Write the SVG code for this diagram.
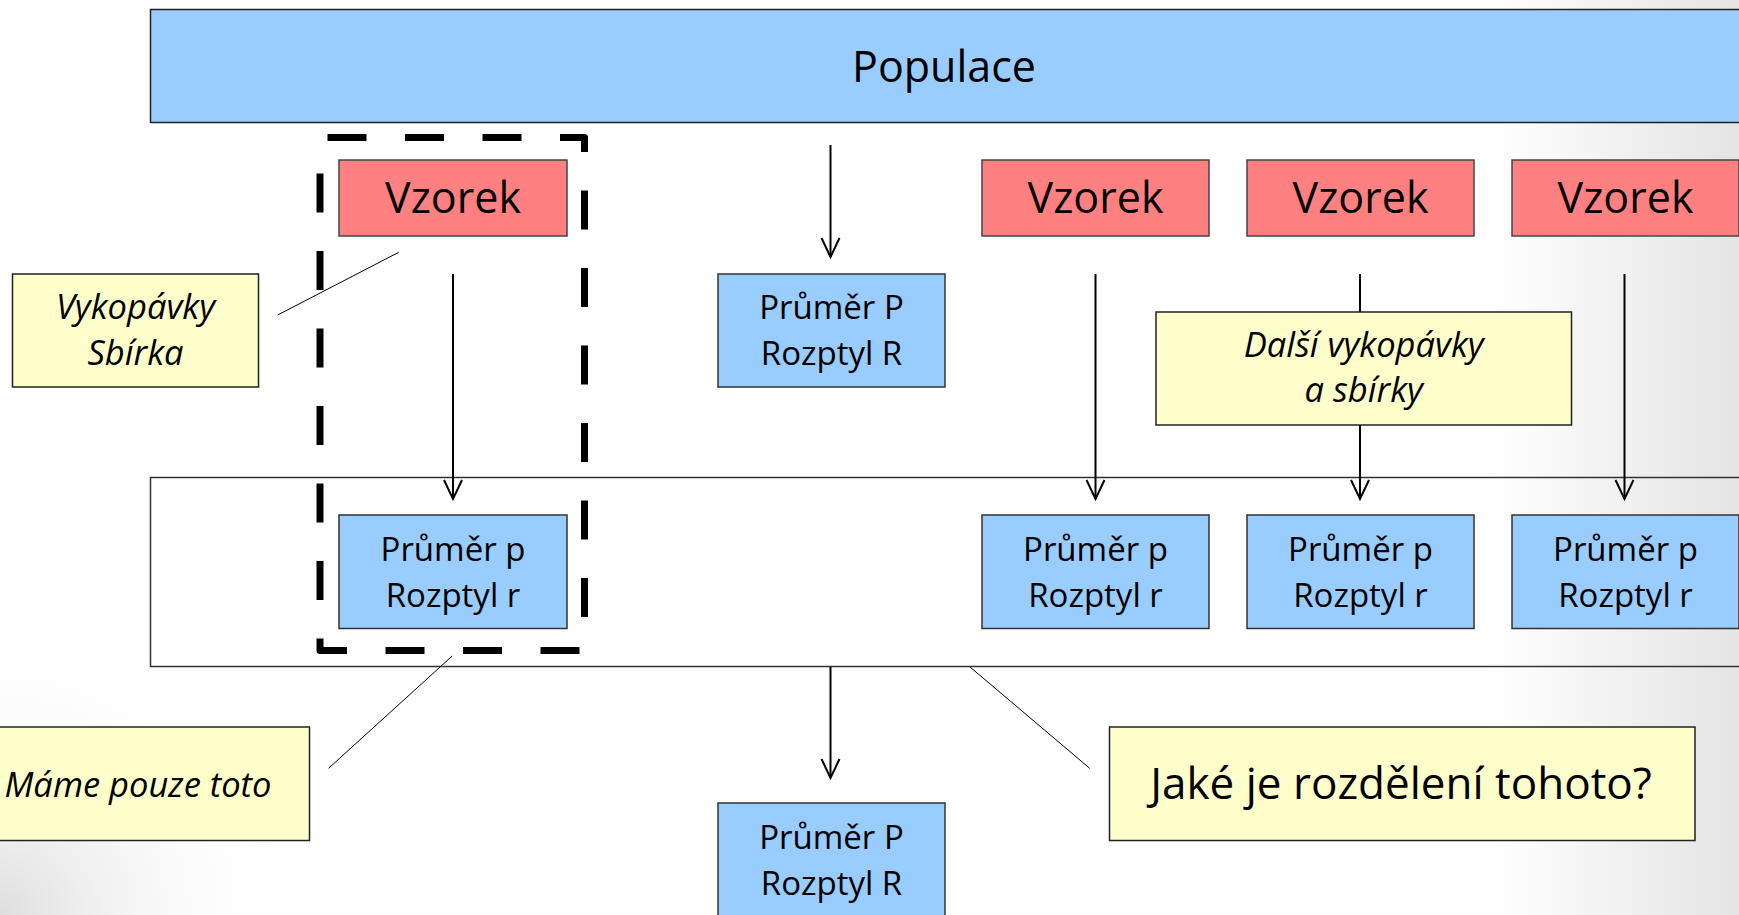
<svg xmlns="http://www.w3.org/2000/svg" width="1739" height="915" viewBox="0 0 1739 915">
<defs>
<style>
.blue{fill:#99ccff;stroke:#333;stroke-width:1.5}
.red{fill:#ff8080;stroke:#444;stroke-width:1.5}
.yel{fill:#ffffcc;stroke:#222;stroke-width:1.5}
.t{font-family:"Open Sans","Noto Sans",sans-serif;fill:#000;text-anchor:middle}
.big{font-size:43px}
.jk{font-size:44px}
.mid{font-size:33px}
.it{font-style:italic;font-size:34.5px}
.arr{stroke:#000;stroke-width:2;fill:none;marker-end:url(#ah)}
.ln{stroke:#000;stroke-width:2;fill:none}
.thin{stroke:#000;stroke-width:1;fill:none}
</style>
<marker id="ah" markerUnits="userSpaceOnUse" markerWidth="26" markerHeight="26" viewBox="-23 -13 26 26" refX="0" refY="0" orient="auto">
<path d="M-19,-9 L0,0 L-19,9" fill="none" stroke="#000" stroke-width="2"/>
</marker>
<linearGradient id="gr" x1="0" y1="0" x2="1" y2="0">
<stop offset="0" stop-color="#e4e4e4" stop-opacity="0"/>
<stop offset="1" stop-color="#e4e4e4" stop-opacity="1"/>
</linearGradient>
<radialGradient id="gbl" cx="0" cy="915" r="300" gradientUnits="userSpaceOnUse">
<stop offset="0" stop-color="#dedede" stop-opacity="1"/>
<stop offset="1" stop-color="#ffffff" stop-opacity="0"/>
</radialGradient>
</defs>
<rect x="0" y="0" width="1739" height="915" fill="#fff"/>
<rect x="1490" y="0" width="249" height="915" fill="url(#gr)"/>
<rect x="0" y="615" width="300" height="300" fill="url(#gbl)"/>

<g id="frame">
<rect x="150.5" y="477.5" width="1600" height="189" fill="none" stroke="#333" stroke-width="1.5"/>
</g>

<g id="populace">
<rect class="blue" x="150.5" y="9.5" width="1600" height="113" style="stroke:#222"/>
<text class="t big" x="944" y="82">Populace</text>
</g>

<g id="vzorek1"><rect class="red" x="339" y="160" width="228" height="76"/><text class="t big" x="453" y="213">Vzorek</text></g>
<g id="vzorek2"><rect class="red" x="982" y="160" width="227" height="76"/><text class="t big" x="1095.5" y="213">Vzorek</text></g>
<g id="vzorek3"><rect class="red" x="1247" y="160" width="227" height="76"/><text class="t big" x="1360.5" y="213">Vzorek</text></g>
<g id="vzorek4"><rect class="red" x="1512" y="160" width="227" height="76"/><text class="t big" x="1625.5" y="213">Vzorek</text></g>

<g id="prumerP-top"><rect class="blue" x="718" y="274" width="227" height="113"/><text class="t mid" x="831.5" y="319">Průměr P</text><text class="t mid" x="831.5" y="365">Rozptyl R</text></g>

<g id="vykopavky"><rect class="yel" x="12.5" y="274" width="246" height="113"/><text class="t it" x="135.5" y="319">Vykopávky</text><text class="t it" x="135.5" y="365">Sbírka</text></g>

<g id="dalsi"><rect class="yel" x="1156" y="312" width="415.5" height="113"/><text class="t it" x="1363.7" y="356.5">Další vykopávky</text><text class="t it" x="1363.7" y="402">a sbírky</text></g>

<g id="prumerp1"><rect class="blue" x="339" y="515" width="228" height="113.5"/><text class="t mid" x="453" y="561">Průměr p</text><text class="t mid" x="453" y="606.5">Rozptyl r</text></g>
<g id="prumerp2"><rect class="blue" x="982" y="515" width="227" height="113.5"/><text class="t mid" x="1095.5" y="561">Průměr p</text><text class="t mid" x="1095.5" y="606.5">Rozptyl r</text></g>
<g id="prumerp3"><rect class="blue" x="1247" y="515" width="227" height="113.5"/><text class="t mid" x="1360.5" y="561">Průměr p</text><text class="t mid" x="1360.5" y="606.5">Rozptyl r</text></g>
<g id="prumerp4"><rect class="blue" x="1512" y="515" width="227" height="113.5"/><text class="t mid" x="1625.5" y="561">Průměr p</text><text class="t mid" x="1625.5" y="606.5">Rozptyl r</text></g>

<g id="prumerP-bottom"><rect class="blue" x="718" y="803" width="227" height="130"/><text class="t mid" x="831.5" y="849">Průměr P</text><text class="t mid" x="831.5" y="895">Rozptyl R</text></g>

<g id="mame"><rect class="yel" x="-5" y="727" width="314.5" height="113.5"/><text class="t it" x="4.5" y="797" style="text-anchor:start">Máme pouze toto</text></g>

<g id="jake"><rect class="yel" x="1109.5" y="727" width="585.5" height="113.5"/><text class="t jk" x="1401" y="799">Jaké je rozdělení tohoto?</text></g>

<g id="vyber">
<path d="M320,137.5 H584.5 V650.5 H320 Z" fill="none" stroke="#000" stroke-width="7" stroke-dasharray="39 38.5" stroke-dashoffset="70" stroke-linejoin="round"/>
</g>

<g id="connectors">
<line class="arr" x1="830.5" y1="145" x2="830.5" y2="257"/>
<line class="arr" x1="453" y1="274" x2="453" y2="499"/>
<line class="arr" x1="1095.5" y1="274" x2="1095.5" y2="499"/>
<line class="ln" x1="1360" y1="274" x2="1360" y2="312"/>
<line class="arr" x1="1360" y1="425" x2="1360" y2="499"/>
<line class="arr" x1="1624.5" y1="274" x2="1624.5" y2="499"/>
<line class="arr" x1="830.5" y1="667" x2="830.5" y2="778"/>
<line class="thin" x1="277.7" y1="315" x2="398.7" y2="252.3"/>
<line class="thin" x1="328.6" y1="768.3" x2="452.2" y2="656"/>
<line class="thin" x1="969.7" y1="666.7" x2="1089.7" y2="768.3"/>
</g>
</svg>
